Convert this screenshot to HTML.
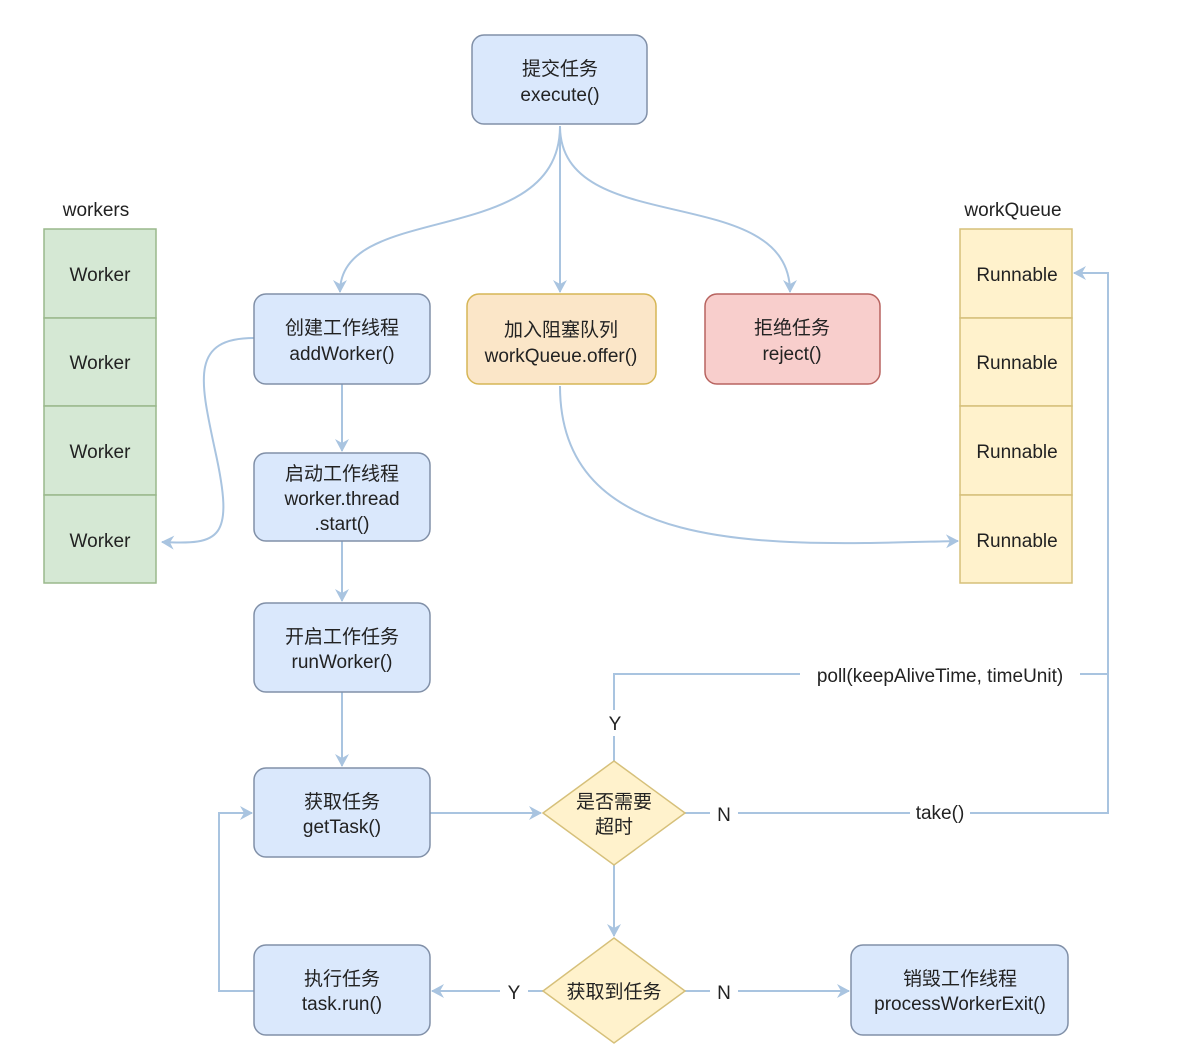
<!DOCTYPE html>
<html><head><meta charset="utf-8"><style>
html,body{margin:0;padding:0;background:#fff;}
svg text{font-family:"Liberation Sans","Noto Sans CJK SC",sans-serif;font-size:19px;fill:#222;text-anchor:middle;}
</style></head><body>
<svg width="1198" height="1058" viewBox="0 0 1198 1058" xmlns="http://www.w3.org/2000/svg">
<defs>
<marker id="a" markerWidth="14" markerHeight="14" refX="12" refY="7" orient="auto" markerUnits="userSpaceOnUse">
<path d="M0,0 L13,7 L0,14 L4,7 Z" fill="#a9c4e0"/></marker>
</defs>
<g fill="none" stroke="#a9c4e0" stroke-width="2">
<path d="M560,126 C560,250 340,200 340,292" marker-end="url(#a)"/>
<path d="M560,126 L560,292" marker-end="url(#a)"/>
<path d="M560,126 C560,240 790,180 790,292" marker-end="url(#a)"/>
<path d="M254,338 C190,338 200,380 215,450 C235,540 220,545 162,542" marker-end="url(#a)"/>
<path d="M560,386 C560,560 780,545 958,541" marker-end="url(#a)"/>
<path d="M342,384 L342,451" marker-end="url(#a)"/>
<path d="M342,541 L342,601" marker-end="url(#a)"/>
<path d="M342,692 L342,766" marker-end="url(#a)"/>
<path d="M430,813 L541,813" marker-end="url(#a)"/>
<path d="M614,761 L614,674 L1108,674"/>
<path d="M685,813 L1108,813 L1108,273 L1074,273" marker-end="url(#a)"/>
<path d="M614,865 L614,936" marker-end="url(#a)"/>
<path d="M543,991 L432,991" marker-end="url(#a)"/>
<path d="M685,991 L849,991" marker-end="url(#a)"/>
<path d="M254,991 L219,991 L219,813 L252,813" marker-end="url(#a)"/>
</g>
<!-- label backgrounds -->
<rect x="800" y="662" width="280" height="26" fill="#fff"/>
<rect x="600" y="710" width="30" height="26" fill="#fff"/>
<rect x="710" y="800" width="28" height="26" fill="#fff"/>
<rect x="910" y="800" width="60" height="26" fill="#fff"/>
<rect x="500" y="978" width="28" height="26" fill="#fff"/>
<rect x="710" y="978" width="28" height="26" fill="#fff"/>
<text x="940" y="682">poll(keepAliveTime, timeUnit)</text>
<text x="615" y="730">Y</text>
<text x="724" y="821">N</text>
<text x="940" y="819">take()</text>
<text x="514" y="999">Y</text>
<text x="724" y="999">N</text>
<!-- workers -->
<text x="96" y="216">workers</text>
<g fill="#d5e8d4" stroke="#9ab88c" stroke-width="1.5">
<rect x="44" y="229" width="112" height="89"/><rect x="44" y="318" width="112" height="88"/>
<rect x="44" y="406" width="112" height="89"/><rect x="44" y="495" width="112" height="88"/>
</g>
<text x="100" y="281">Worker</text><text x="100" y="369">Worker</text>
<text x="100" y="458">Worker</text><text x="100" y="547">Worker</text>
<text x="1013" y="216">workQueue</text>
<g fill="#fff2cc" stroke="#d6c07a" stroke-width="1.5">
<rect x="960" y="229" width="112" height="89"/><rect x="960" y="318" width="112" height="88"/>
<rect x="960" y="406" width="112" height="89"/><rect x="960" y="495" width="112" height="88"/>
</g>
<text x="1017" y="281">Runnable</text><text x="1017" y="369">Runnable</text>
<text x="1017" y="458">Runnable</text><text x="1017" y="547">Runnable</text>
<!-- boxes -->
<g fill="#dae8fc" stroke="#8190a8" stroke-width="1.5">
<rect x="472" y="35" width="175" height="89" rx="12"/>
<rect x="254" y="294" width="176" height="90" rx="12"/>
<rect x="254" y="453" width="176" height="88" rx="12"/>
<rect x="254" y="603" width="176" height="89" rx="12"/>
<rect x="254" y="768" width="176" height="89" rx="12"/>
<rect x="254" y="945" width="176" height="90" rx="12"/>
<rect x="851" y="945" width="217" height="90" rx="12"/>
</g>
<rect x="467" y="294" width="189" height="90" rx="12" fill="#fbe6c8" stroke="#d6b656" stroke-width="1.5"/>
<rect x="705" y="294" width="175" height="90" rx="12" fill="#f8cecc" stroke="#b86460" stroke-width="1.5"/>
<g fill="#fff2cc" stroke="#d6c07a" stroke-width="1.5">
<path d="M614,761 L685,813 L614,865 L543,813 Z"/>
<path d="M614,938 L685,991 L614,1043 L543,991 Z"/>
</g>
<text x="560" y="75">提交任务</text><text x="560" y="101">execute()</text>
<text x="342" y="334">创建工作线程</text><text x="342" y="360">addWorker()</text>
<text x="561" y="336">加入阻塞队列</text><text x="561" y="362">workQueue.offer()</text>
<text x="792" y="334">拒绝任务</text><text x="792" y="360">reject()</text>
<text x="342" y="480">启动工作线程</text><text x="342" y="505">worker.thread</text><text x="342" y="530">.start()</text>
<text x="342" y="643">开启工作任务</text><text x="342" y="668">runWorker()</text>
<text x="342" y="808">获取任务</text><text x="342" y="833">getTask()</text>
<text x="342" y="985">执行任务</text><text x="342" y="1010">task.run()</text>
<text x="960" y="985">销毁工作线程</text><text x="960" y="1010">processWorkerExit()</text>
<text x="614" y="808">是否需要</text><text x="614" y="833">超时</text>
<text x="614" y="998">获取到任务</text>
</svg>
</body></html>
